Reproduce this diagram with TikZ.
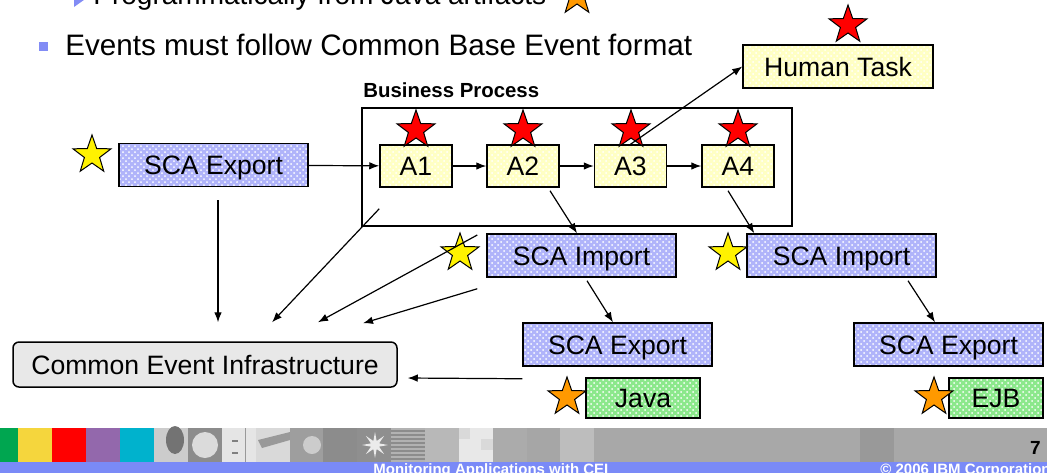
\documentclass[tikz,border=0pt]{standalone}
\usepackage{fontspec}
\setmainfont{Liberation Sans}
\usetikzlibrary{shapes.geometric,arrows.meta,patterns,calc}
\definecolor{bluefill}{RGB}{176,180,250}
\definecolor{yelfill}{RGB}{255,255,196}
\definecolor{grnfill}{RGB}{140,232,140}
\definecolor{ceifill}{RGB}{232,232,232}
\definecolor{bulletblue}{RGB}{130,140,245}
\definecolor{barblue}{RGB}{122,138,247}
\definecolor{starorange}{RGB}{255,153,0}
\begin{document}
\begin{tikzpicture}[x=0.5pt,y=-0.5pt,
  box/.style={draw, line width=0.75pt, inner sep=0pt, font=\fontsize{13.3}{16}\selectfont, text height=9.5pt, text depth=0pt},
  bluebox/.style={box, preaction={fill=bluefill}, pattern=crosshatch dots, pattern color=white, minimum width=94.5pt, minimum height=21.5pt},
  yelbox/.style={box, preaction={fill=yelfill}, pattern=crosshatch dots, pattern color=white, minimum height=21pt},
  grnbox/.style={box, preaction={fill=grnfill}, pattern=crosshatch dots, pattern color=white, minimum height=20pt},
  starnode/.style={star, star points=5, star point ratio=2.5, minimum size=20pt, inner sep=0pt, draw=black, line width=0.5pt},
  arr/.style={-{Latex[length=5pt,width=3.8pt]}, line width=0.6pt},
  bartext/.style={text=white, font=\bfseries\fontsize{7.5}{9}\selectfont, inner sep=0pt}
]
\useasboundingbox (0,0) rectangle (1047,473);
\clip (0,0) rectangle (1047,473);

% bullet lines
\fill[bulletblue] (74,-10) -- (74,7) -- (86,-1.5) -- cycle;
\node[anchor=base west, inner sep=0pt, font=\fontsize{14}{16}\selectfont] (l1) at (93,4) {Programmatically from Java artifacts};
\fill[bulletblue] (39,42) rectangle (48,51);
\node[anchor=base west, inner sep=0pt, font=\fontsize{14.8}{17}\selectfont] (l2) at (65,55) {Events must follow Common Base Event format};

% business process frame
\node[draw, line width=0.75pt, minimum width=215pt, minimum height=59pt, inner sep=0pt] (bp) at (577,167) {};
\node[anchor=base west, inner sep=0pt, font=\bfseries\fontsize{10.2}{12}\selectfont] (bpl) at (363,97) {Business Process};

% boxes
\node[bluebox] (e1) at (213.5,165) {SCA Export};
\node[yelbox, minimum width=36pt] (a1) at (416,166) {A1};
\node[yelbox, minimum width=36pt] (a2) at (523,166) {A2};
\node[yelbox, minimum width=36pt] (a3) at (630.5,166) {A3};
\node[yelbox, minimum width=36pt] (a4) at (738,166) {A4};
\node[yelbox, minimum width=95pt, minimum height=21.5pt] (ht) at (838,66.5) {Human Task};
\node[bluebox] (i1) at (581.5,255.5) {SCA Import};
\node[bluebox] (i2) at (841.5,255.5) {SCA Import};
\node[bluebox] (e2) at (617.5,344.5) {SCA Export};
\node[bluebox] (e3) at (948.5,344.5) {SCA Export};
\node[grnbox, minimum width=57pt] (java) at (643,398) {Java};
\node[grnbox, minimum width=47pt] (ejb) at (996,398) {EJB};
\node[box, fill=ceifill, rounded corners=3pt, minimum width=192pt, minimum height=22.5pt] (cei) at (205,364.5) {Common Event Infrastructure};

% stars
\node[starnode, fill=starorange] (s0) at (577,-4) {};
\node[starnode, fill=yellow] (s1) at (92,155) {};
\node[starnode, fill=red] (s2) at (416,130) {};
\node[starnode, fill=red] (s3) at (523,130) {};
\node[starnode, fill=red] (s4) at (631,130) {};
\node[starnode, fill=red] (s5) at (738,130) {};
\node[starnode, fill=red] (s6) at (848,25) {};
\node[starnode, fill=yellow] (s7) at (460,253) {};
\node[starnode, fill=yellow] (s8) at (728,253) {};
\node[starnode, fill=starorange] (s9) at (567,397) {};
\node[starnode, fill=starorange] (s10) at (934,397) {};

% connectors
\draw[arr] (e1) -- (a1);
\draw[arr] (a1) -- (a2);
\draw[arr] (a2) -- (a3);
\draw[arr] (a3) -- (a4);
\draw[arr] (a3.north) -- (ht.west);
\draw[arr] ($(a2.south)+(27,3)$) -- ($(i1.north)+(-4.5,0)$);
\draw[arr] ($(a4.south)+(-10,3)$) -- ($(i2.north west)+(8,0)$);
\draw[arr] ($(i1.south)+(5.5,3)$) -- ($(e2.north)+(-4.5,0)$);
\draw[arr] ($(i2.south)+(66.5,3)$) -- ($(e3.north)+(-13.5,0)$);
\draw[arr] ($(e1.south)+(4.5,13)$) -- ($(cei.north)+(13,-19)$);
\draw[arr] ($(bp.south west)+(18,-18)$) -- ($(cei.north)+(67,-19)$);
\draw[arr] ($(i1.west)+(-9,-20.5)$) -- ($(cei.north)+(113,-19)$);
\draw[arr] ($(i1.south west)+(-9,11)$) -- ($(cei.north)+(158,-18)$);
\draw[arr] ($(e2.south west)+(0,12)$) -- ($(cei.east)+(10,13.5)$);

% banner
\fill[color={rgb,255:red,0;green,166;blue,80}] (0,428) rectangle (18,462);
\fill[color={rgb,255:red,245;green,214;blue,61}] (18,428) rectangle (52,462);
\fill[color={rgb,255:red,255;green,0;blue,0}] (52,428) rectangle (86,462);
\fill[color={rgb,255:red,147;green,104;blue,172}] (86,428) rectangle (120,462);
\fill[color={rgb,255:red,0;green,178;blue,205}] (120,428) rectangle (154,462);
\fill[black!20] (154,428) rectangle (188,462);
\fill[black!55] (175,440) ellipse (9 and 14);
\fill[black!45] (188,428) rectangle (222,462);
\fill[black!14] (205,445) circle (13);
\fill[black!10] (222,428) rectangle (256,462);
\draw[black!40, line width=0.5pt] (245,428) -- (245,462);
\fill[black!50] (232,440) rectangle (238,442);
\fill[black!50] (232,452) rectangle (238,454);
\fill[black!15] (256,428) rectangle (290,462);
\fill[black!40] (258,440) -- (290,432) -- (290,440) -- (262,448) -- cycle;
\fill[black!38] (290,428) rectangle (323,462);
\fill[black!20] (312,445) circle (9);
\fill[black!45] (323,428) rectangle (357,462);
\fill[black!44] (357,428) rectangle (391,462);
\node[star, star points=8, star point ratio=3, minimum size=13pt, inner sep=0pt, fill=black!8] (bst) at (375,445) {};
\fill[black!30] (391,428) rectangle (425,462);
\foreach \yy in {431,435,...,461} { \draw[black!45, line width=0.6pt] (391,\yy) -- (425,\yy); }
\fill[black!28] (425,428) rectangle (459,462);
\fill[black!9] (459,428) rectangle (493,462);
\fill[black!15] (459,428) rectangle (470,439);
\fill[black!15] (481,439) rectangle (493,450);
\fill[black!33] (493,428) rectangle (527,462);
\fill[black!35] (527,428) rectangle (560,462);
\fill[black!26] (560,428) rectangle (594,462);
\fill[black!34] (594,428) rectangle (860,462);
\fill[black!40] (860,428) rectangle (894,462);
\fill[black!34] (894,428) rectangle (1047,462);
\fill[barblue] (0,462) rectangle (1047,473);
\node[anchor=base east, inner sep=0pt, font=\bfseries\fontsize{9.5}{11}\selectfont] (pg) at (1041,454) {7};
\node[bartext, anchor=base west] (bt1) at (373,474) {Monitoring Applications with CEI};
\node[bartext, anchor=base west] (bt2) at (880,474) {© 2006 IBM Corporation};
\end{tikzpicture}
\end{document}
